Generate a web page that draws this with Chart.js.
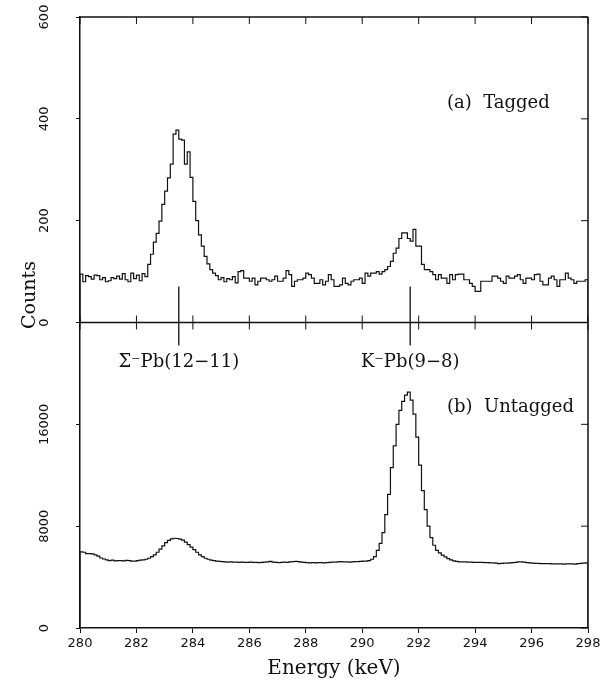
<!doctype html>
<html lang="en">
<head>
  <meta charset="utf-8">
  <title>Counts vs Energy</title>
  <style>
    html, body { margin: 0; padding: 0; background: #fff; }
    #caja { width: 616px; height: 686px; position: relative; }
  </style>
</head>
<body>
  <div id="caja"><canvas id="grafico"></canvas></div>

  <script src="https://cdn.jsdelivr.net/npm/chart.js"></script>
  <script>
    // histogram bins: 0.1 keV wide, first bin starts at 280 keV
    const binStart = 280;
    const binWidth = 0.1;

    // (a) tagged spectrum, counts per bin
    const countsTagged = [
      95, 80, 92, 90, 85, 93, 92, 84, 88, 80, 82, 88, 86, 91, 85, 96, 84, 80, 97, 86,
      93, 82, 96, 90, 114, 134, 158, 175, 199, 232, 258, 284, 311, 370, 378, 360, 358, 311, 335, 285,
      238, 200, 172, 150, 130, 115, 104, 97, 92, 84, 88, 80, 86, 84, 90, 78, 100, 102, 87, 87,
      81, 87, 74, 81, 87, 87, 84, 81, 84, 91, 81, 81, 87, 102, 94, 71, 81, 84, 84, 87,
      97, 94, 87, 77, 77, 84, 74, 81, 94, 84, 71, 71, 74, 87, 77, 74, 81, 84, 84, 87,
      77, 97, 91, 97, 97, 100, 95, 100, 104, 110, 120, 136, 146, 165, 176, 176, 165, 160, 183, 150,
      150, 114, 104, 104, 100, 94, 84, 94, 87, 87, 77, 94, 84, 94, 95, 95, 84, 84, 77, 71,
      61, 61, 81, 81, 81, 81, 91, 91, 87, 81, 77, 91, 87, 87, 91, 94, 84, 77, 87, 87,
      84, 94, 95, 81, 74, 74, 87, 91, 84, 71, 84, 84, 97, 87, 84, 77, 81, 81, 81, 84
    ];

    // (b) untagged spectrum, counts per bin
    const countsUntagged = [
      5980, 5950, 5850, 5850, 5820, 5750, 5650, 5500, 5420, 5350, 5300, 5330, 5280, 5300, 5300, 5280, 5320, 5300, 5260, 5250,
      5300, 5330, 5350, 5400, 5480, 5600, 5750, 5950, 6200, 6450, 6700, 6880, 7000, 7050, 7030, 6980, 6900, 6750, 6550, 6350,
      6150, 5950, 5750, 5600, 5480, 5400, 5330, 5300, 5260, 5230, 5220, 5200, 5180, 5190, 5170, 5180, 5160, 5170, 5150, 5160,
      5170, 5150, 5160, 5140, 5150, 5170, 5200, 5230, 5180, 5150, 5130, 5150, 5170, 5160, 5190, 5220, 5240, 5210, 5180, 5150,
      5140, 5120, 5130, 5120, 5140, 5130, 5120, 5140, 5150, 5170, 5180, 5200, 5210, 5190, 5200, 5180, 5200, 5210, 5220, 5230,
      5250, 5260, 5300, 5400, 5600, 6100, 6650, 7500, 8900, 10500, 12600, 14300, 16000, 17100, 17800, 18300, 18530, 17900, 16800, 15000,
      12800, 10800, 9300, 8000, 7100, 6500, 6100, 5900, 5720, 5580, 5450, 5350, 5280, 5230, 5200, 5200, 5190, 5180, 5170, 5160,
      5160, 5150, 5150, 5140, 5130, 5120, 5110, 5100, 5050, 5080, 5100, 5100, 5110, 5130, 5160, 5190, 5200, 5180, 5140, 5110,
      5100, 5080, 5070, 5060, 5050, 5060, 5050, 5040, 5030, 5040, 5030, 5020, 5030, 5040, 5030, 5020, 5050, 5080, 5100, 5120
    ];

    // tick labels
    const energyTicks = [280, 282, 284, 286, 288, 290, 292, 294, 296, 298];
    const taggedTicks = [0, 200, 400, 600];
    const untaggedTicks = [0, 8000, 16000];

    // line markers for the two transitions
    const markerEnergies = [283.5, 291.7];
    const markerLabels = ['Σ⁻Pb(12−11)', 'K⁻Pb(9−8)'];

    // histogram outline: starts and ends at zero like the original plot
    function toSteps(counts) {
      const pts = [{ x: binStart, y: 0 }];
      counts.forEach((v, i) => pts.push({ x: binStart + i * binWidth, y: v }));
      pts.push({ x: binStart + counts.length * binWidth, y: counts[counts.length - 1] });
      pts.push({ x: binStart + counts.length * binWidth, y: 0 });
      return pts;
    }

    const ink = '#111';

    // frame, inner ticks, markers and labels
    const decor = {
      id: 'decor',
      afterDraw(chart) {
        const ctx = chart.ctx;
        const xs = chart.scales.x;
        const yt = chart.scales.yTagged;
        const yu = chart.scales.yUntagged;
        const { left, right, top, bottom } = chart.chartArea;
        const mid = yt.bottom;

        ctx.save();
        ctx.strokeStyle = ink;
        ctx.lineWidth = 1.5;
        ctx.beginPath();
        ctx.moveTo(left, top); ctx.lineTo(right, top);
        ctx.moveTo(right, top); ctx.lineTo(right, bottom);
        ctx.moveTo(left, mid); ctx.lineTo(right, mid);
        ctx.stroke();

        ctx.lineWidth = 1;
        ctx.beginPath();
        energyTicks.forEach(e => {
          const px = xs.getPixelForValue(e);
          ctx.moveTo(px, top); ctx.lineTo(px, top + 7);
          ctx.moveTo(px, mid - 7); ctx.lineTo(px, mid + 7);
        });
        taggedTicks.forEach(v => {
          const py = yt.getPixelForValue(v);
          ctx.moveTo(right, py); ctx.lineTo(right - 7, py);
        });
        untaggedTicks.forEach(v => {
          const py = yu.getPixelForValue(v);
          ctx.moveTo(right, py); ctx.lineTo(right - 7, py);
        });
        ctx.stroke();

        ctx.lineWidth = 1.3;
        ctx.beginPath();
        markerEnergies.forEach(e => {
          const px = xs.getPixelForValue(e);
          ctx.moveTo(px, mid - 36); ctx.lineTo(px, mid + 23);
        });
        ctx.stroke();

        ctx.fillStyle = ink;
        ctx.font = '18px "DejaVu Serif"';
        ctx.textBaseline = 'alphabetic';
        ctx.textAlign = 'center';
        markerEnergies.forEach((e, i) => {
          ctx.fillText(markerLabels[i], xs.getPixelForValue(e), mid + 44);
        });

        ctx.textAlign = 'left';
        ctx.fillText('(a)  Tagged', 447, 108);
        ctx.fillText('(b)  Untagged', 447, 412);

        ctx.translate(30, 295);
        ctx.rotate(-Math.PI / 2);
        ctx.textAlign = 'center';
        ctx.textBaseline = 'middle';
        ctx.font = '19px "DejaVu Serif"';
        ctx.fillText('Counts', 0, 0);
        ctx.restore();
      }
    };

    const tickFont = { family: 'DejaVu Sans', size: 13 };

    function yAxis(max, ticks, pad) {
      return {
        type: 'linear',
        position: 'left',
        stack: 'counts',
        stackWeight: 1,
        min: 0,
        max: max,
        afterBuildTicks: s => { s.ticks = ticks.map(v => ({ value: v })); },
        afterFit: s => { s.width = 80; s.paddingTop = 0; s.paddingBottom = 0; },
        grid: { drawOnChartArea: false, tickLength: 4, color: ink },
        border: { color: ink, width: 1.5 },
        ticks: {
          minRotation: 90, maxRotation: 90, crossAlign: 'center', padding: pad,
          font: tickFont, color: ink,
          callback: v => String(v)
        }
      };
    }

    const lienzo = document.getElementById('grafico');
    new Chart(lienzo, {
      type: 'line',
      data: {
        datasets: [
          {
            label: '(a) Tagged',
            data: toSteps(countsTagged),
            yAxisID: 'yTagged',
            stepped: 'before',
            borderColor: ink,
            borderWidth: 1.2,
            pointRadius: 0,
            fill: false
          },
          {
            label: '(b) Untagged',
            data: toSteps(countsUntagged),
            yAxisID: 'yUntagged',
            stepped: 'before',
            borderColor: ink,
            borderWidth: 1.2,
            pointRadius: 0,
            fill: false
          }
        ]
      },
      options: {
        responsive: true,
        maintainAspectRatio: false,
        animation: false,
        layout: { padding: { top: 17, right: 28, left: 0, bottom: 0 } },
        plugins: { legend: { display: false }, tooltip: { enabled: false } },
        scales: {
          x: {
            type: 'linear',
            min: 280,
            max: 298,
            afterBuildTicks: s => { s.ticks = energyTicks.map(v => ({ value: v })); },
            afterFit: s => { s.height = 58; s.paddingLeft = 0; s.paddingRight = 0; },
            grid: { drawOnChartArea: false, tickLength: 5, color: ink },
            border: { color: ink, width: 1.5 },
            ticks: { font: tickFont, color: ink, padding: 3, maxRotation: 0 },
            title: {
              display: true,
              text: 'Energy (keV)',
              font: { family: 'DejaVu Serif', size: 20 },
              color: ink,
              padding: { top: 0, bottom: 5 }
            }
          },
          yUntagged: yAxis(24000, untaggedTicks, 11),
          yTagged: yAxis(600, taggedTicks, 19)
        }
      },
      plugins: [decor]
    });
  </script>
</body>
</html>
